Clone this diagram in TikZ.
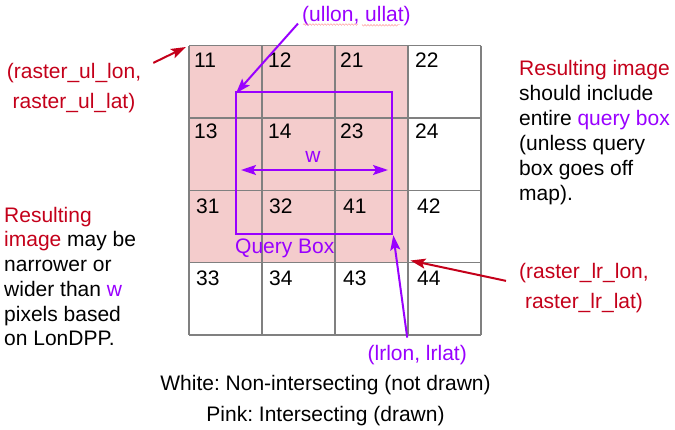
\documentclass[tikz,border=0pt]{standalone}
\usepackage{fontspec}
\setmainfont{Liberation Sans}
\usepackage{xcolor}
\usetikzlibrary{decorations.pathmorphing,arrows.meta}
\definecolor{qpurple}{HTML}{9900FF}
\definecolor{rred}{HTML}{C4001A}
\definecolor{cellpink}{HTML}{F4CCCC}
\definecolor{gridgray}{HTML}{808080}
\frenchspacing
\begin{document}
\begin{tikzpicture}[x=1pt,y=-1pt,font=\fontsize{21}{25}\selectfont,inner sep=0pt,>={Stealth[length=15pt,width=10pt,inset=3pt]}]
\useasboundingbox (0,0) rectangle (675,429);
\fill[cellpink](189,46) rectangle (408,262);
\foreach \k in {0,...,4}{
\draw[gridgray,line width=1.3pt](189+73*\k,45.7)--(189+73*\k,335);
\draw[gridgray,line width=1.3pt](189,45.7+72.3*\k)--(481,45.7+72.3*\k);}
\foreach \t/\x/\y in {11/194/67,12/268/67,21/340/67,22/415/67,13/194/138,14/268/138,23/340/138,24/415/138,31/196/213,32/269/213,41/343/213,42/417/213,33/196/285,34/269/285,43/343/285,44/417/285}
\node[anchor=base west] (c\t) at (\x,\y) {\t};
% query box
\coordinate (qul) at (236,92.3);
\coordinate (qlr) at (392.3,233.7);
\draw[qpurple,line width=2pt](qul) rectangle (qlr);
\node[anchor=base west,text=qpurple] (qbox) at (235,253) {Query Box};
\coordinate (wl) at (241,170);
\coordinate (wr) at (388,170);
\draw[qpurple,line width=2pt,<->](wl)--(wr);
\node[text=qpurple] (w) at (313,157) {w};
% corners
\node[anchor=base west,text=qpurple] (ul) at (302,21) {(ullon, ullat)};
\draw[red!45,decorate,decoration={snake,amplitude=0.8pt,segment length=3pt}](303,24.5)--(357,24.5)(362,24.5)--(400,24.5);
\draw[qpurple,line width=2pt,->]([shift={(-4pt,2pt)}]ul.south west)--([shift={(0pt,-1pt)}]qul);
\node[anchor=base east,text=qpurple] (lr) at (467,360) {(lrlon, lrlat)};
\draw[qpurple,line width=2pt,->]([shift={(-10pt,7pt)}]lr.north)--([xshift=1pt,yshift=-1.5pt]qlr);
\coordinate (rul) at (186,47);
\coordinate (rlr) at (410.5,260.5);
\node[anchor=base,align=center,text=rred,font=\fontsize{21}{30}\selectfont] (rulb) at (74,108.3) {(raster\_ul\_lon,\\raster\_ul\_lat)};
\draw[rred,line width=2pt,->]([xshift=12pt]rulb.north east)--(rul);
\node[anchor=base,align=center,text=rred,font=\fontsize{21}{30}\selectfont] (rlrb) at (584,308.3) {(raster\_lr\_lon,\\raster\_lr\_lat)};
\draw[rred,line width=2pt,->]([shift={(-13pt,7pt)}]rlrb.west)--(rlr);
% notes
\node[anchor=base west,align=left] (note1) at (519,200) {\textcolor{rred}{Resulting image}\\should include\\entire \textcolor{qpurple}{query box}\\(unless query\\box goes off\\map).};
\node[anchor=base west,align=left,font=\fontsize{21}{24.7}\selectfont] (note2) at (4,345.7) {\textcolor{rred}{Resulting}\\\textcolor{rred}{image} may be\\narrower or\\wider than \textcolor{qpurple}{w}\\pixels based\\on LonDPP.};
\node[anchor=base,align=center,font=\fontsize{21}{31.7}\selectfont] (legend) at (325.5,421.7) {White: Non-intersecting (not drawn)\\Pink: Intersecting (drawn)};
\end{tikzpicture}
\end{document}
